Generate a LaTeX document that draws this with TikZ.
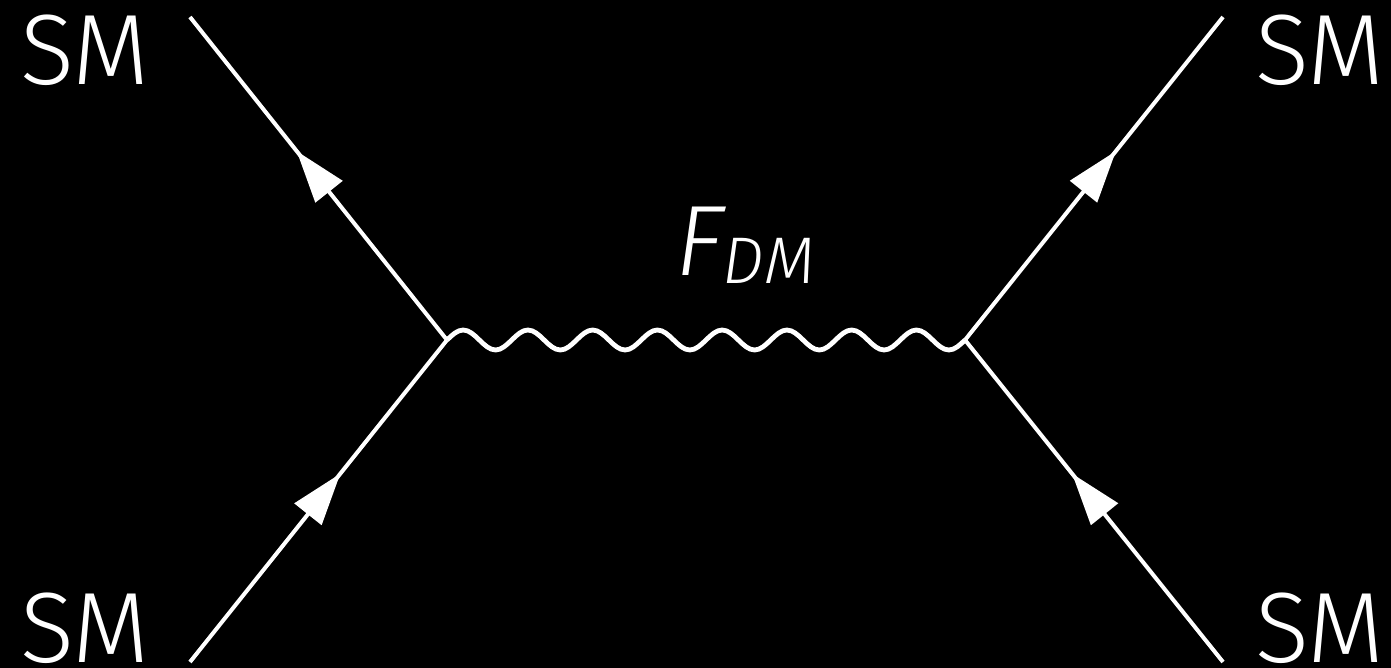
\documentclass[tikz,border=0pt]{standalone}
\usepackage{fontspec}
\setmainfont{Fira Sans Light}[ItalicFont={Fira Sans Light Italic}]
\usetikzlibrary{arrows.meta,decorations.markings}
\begin{document}
\begin{tikzpicture}[x=0.5pt,y=-0.5pt,
  fermion/.style={draw=white,line width=2pt,
    postaction={decorate},
    decoration={markings,mark=at position 0.585 with {\arrow[white]{Triangle[length=26pt,width=17pt]}}}},
  boson/.style={draw=white,line width=2.4pt,line join=round},
  lbl/.style={text=white,inner sep=0pt,anchor=base,font=\fontsize{50}{50}\selectfont},
  flbl/.style={text=white,inner sep=0pt,anchor=base,font=\fontsize{50}{50}\selectfont\itshape}]
\fill[black] (0,0) rectangle (1391,668);
\useasboundingbox (0,0) rectangle (1391,668);
\coordinate (v1) at (447,340);
\coordinate (v2) at (965,340);
\coordinate (tl) at (190,17);
\coordinate (bl) at (190,662);
\coordinate (tr) at (1223,17);
\coordinate (br) at (1223,662);
\path[fermion] (v1) -- (tl);
\path[fermion] (bl) -- (v1);
\path[fermion] (v2) -- (tr);
\path[fermion] (br) -- (v2);
\draw[boson] (v1) foreach \i in {1,...,8} {
   sin ++(16.1875,-10) cos ++(16.1875,10) sin ++(16.1875,10) cos ++(16.1875,-10)};
\node[lbl] (smtl) at (85,85) {SM};
\node[lbl] (smbl) at (85,662) {SM};
\node[lbl] (smtr) at (1320,85) {SM};
\node[lbl] (smbr) at (1320,662) {SM};
\node[flbl] (fdm) at (745,276) {F\raisebox{-4pt}{\fontsize{33}{33}\selectfont DM}};
\end{tikzpicture}
\end{document}
